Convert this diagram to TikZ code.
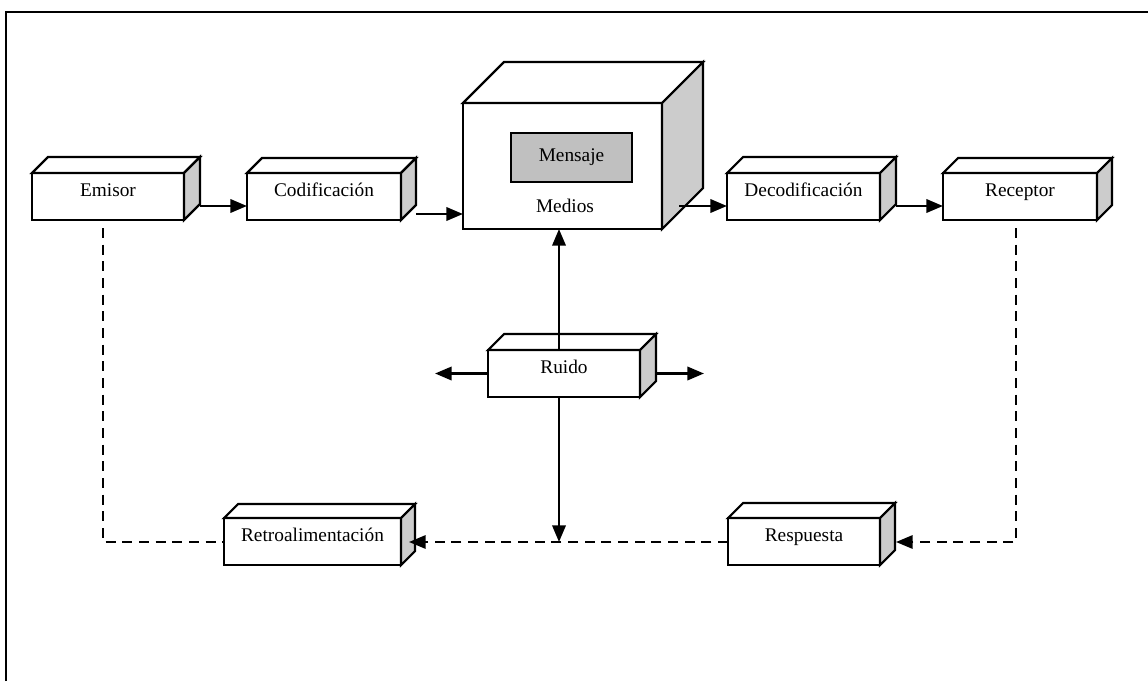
\documentclass[tikz,border=0pt]{standalone}
\usepackage{fontspec}
\setmainfont{Liberation Serif}
\usetikzlibrary{arrows.meta,calc}
\definecolor{sidegray}{HTML}{CCCCCC}
\definecolor{msggray}{HTML}{C0C0C0}
\newcommand{\tdbox}[2]{%
  \filldraw[fill=white,line width=1.6pt,line join=miter] (#1.north west) -- ++(#2,-#2) -- ($(#1.north east)+(#2,-#2)$) -- (#1.north east) -- cycle;
  \filldraw[fill=sidegray,line width=1.6pt,line join=miter] (#1.north east) -- ++(#2,-#2) -- ($(#1.south east)+(#2,-#2)$) -- (#1.south east) -- cycle;}
\begin{document}
\begin{tikzpicture}[x=0.75pt,y=-0.75pt,
  box/.style 2 args={draw, line width=1.6pt, fill=white, outer sep=0pt, inner sep=0pt,
    minimum width=#1*0.75pt, minimum height=#2*0.75pt,
    font=\fontsize{14.5}{16}\selectfont, text height=7pt, text depth=7pt},
  lbl/.style={font=\fontsize{14.5}{16}\selectfont, inner sep=0pt},
  tip/.style={-{Triangle[length=12.5pt,width=10pt]}},
  arr/.style={line width=1.9pt, tip},
  dsh/.style={line width=1.6pt, dash pattern=on 7.5pt off 5pt}]
\useasboundingbox (0,0) rectangle (1148,681);
% frame
\draw[line width=1.6pt] (6,681) -- (6,12) -- (1148,12);

% boxes
\node[box={152}{47}] (emisor) at (108,196.5) {Emisor};
\tdbox{emisor}{16}
\node[box={154}{47}] (cod) at (324,196.5) {Codificación};
\tdbox{cod}{15}
\node[box={199}{126}] (medios) at (562.5,166) {};
\tdbox{medios}{41}
\node[draw, line width=1.6pt, fill=msggray, minimum width=121*0.75pt, minimum height=49*0.75pt,
  font=\fontsize{14.5}{16}\selectfont, outer sep=0pt] (mensaje) at (571.5,157.5) {Mensaje};
\node[lbl] (medioslbl) at (565,206) {Medios};
\node[box={153}{47}] (decod) at (803.5,196.5) {Decodificación};
\tdbox{decod}{16}
\node[box={154}{47}] (receptor) at (1020,196.5) {Receptor};
\tdbox{receptor}{15}
\node[box={152}{47}] (ruido) at (564,373.5) {Ruido};
\tdbox{ruido}{16}
\node[box={177}{47}] (retro) at (312.5,541.5) {Retroalimentación};
\tdbox{retro}{14}
\node[box={152}{47}] (resp) at (804,541.5) {Respuesta};
\tdbox{resp}{15}

% top row connectors
\coordinate (a1) at ($(emisor.east)+(16,9.5)$);
\draw[arr] (a1) -- (a1 -| cod.west);
\coordinate (a2) at ($(cod.east)+(15,17.5)$);
\draw[arr] (a2) -- (a2 -| medios.west);
\coordinate (a3) at ($(medios.east)+(17,40)$);
\draw[arr] (a3) -- (a3 -| decod.west);
\coordinate (a4) at ($(decod.east)+(16,9.5)$);
\draw[arr] (a4) -- (a4 -| receptor.west);

% noise connectors
\coordinate (n1) at (559,350);
\draw[arr] (n1) -- (n1 |- medios.south);
\coordinate (n2) at (559,397);
\coordinate (n3) at (559,542);
\draw[arr] (n2) -- (n3);
\draw[arr] (ruido.west) -- ++(-53,0);
\coordinate (n4) at ($(ruido.east)+(16,0)$);
\draw[arr] (n4) -- ++(48,0);

% feedback loop
\coordinate (e1) at (103,228);
\coordinate (e2) at (103,542);
\draw[dsh] (e1) -- (e2) -- (e2 -| retro.west);
\coordinate (r1) at (1016,228);
\coordinate (r2) at (1016,542);
\coordinate (r3) at ($(resp.east)+(16,0.5)$);
\draw[dsh,tip] (r1) -- (r2) -- (r3);
\coordinate (f1) at ($(retro.east)+(8,0.5)$);
\draw[dsh,tip] ($(resp.west)+(0,0.5)$) -- (f1);
\end{tikzpicture}
\end{document}
